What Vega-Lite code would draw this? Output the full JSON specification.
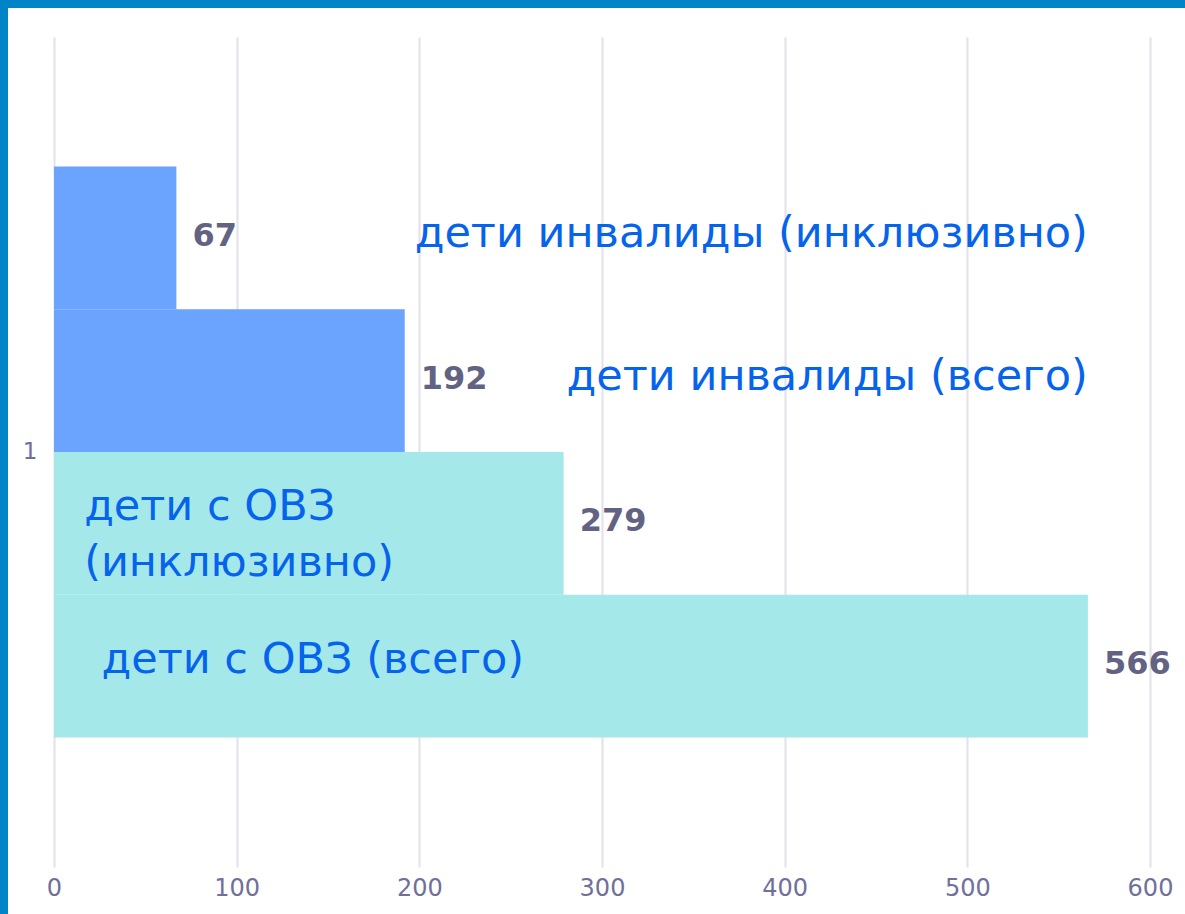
{
  "$schema": "https://vega.github.io/schema/vega-lite/v6.json",
  "width": 1181,
  "height": 910,
  "autosize": "none",
  "padding": {"left": 4, "top": 4, "right": 0, "bottom": 0},
  "background": "white",
  "config": {
    "view": {"stroke": "#0084c8", "strokeWidth": 8, "strokeDash": [1181, 2091, 910, 0], "strokeCap": "square"},
    "font": "DejaVu Sans"
  },
  "data": {
    "values": [
      {"cat": "1", "series": "дети инвалиды (инклюзивно)", "group": "инвалиды", "value": 67, "label": "дети инвалиды (инклюзивно)"},
      {"cat": "1", "series": "дети инвалиды (всего)", "group": "инвалиды", "value": 192, "label": "дети инвалиды (всего)"},
      {"cat": "1", "series": "дети с ОВЗ (инклюзивно)", "group": "ОВЗ", "value": 279, "label": "дети с ОВЗ\n(инклюзивно)"},
      {"cat": "1", "series": "дети с ОВЗ (всего)", "group": "ОВЗ", "value": 566, "label": "дети с ОВЗ (всего)"}
    ]
  },
  "encoding": {
    "y": {
      "field": "cat", "type": "nominal",
      "scale": {"range": [33, 863], "paddingInner": 0, "paddingOuter": 0.2268},
      "axis": {"title": null, "ticks": false, "domain": false, "grid": false, "labelFontSize": 23, "labelColor": "#70709a", "offset": -50, "labelPadding": 17}
    },
    "yOffset": {
      "field": "series", "type": "nominal",
      "sort": ["дети инвалиды (инклюзивно)", "дети инвалиды (всего)", "дети с ОВЗ (инклюзивно)", "дети с ОВЗ (всего)"],
      "scale": {"paddingInner": 0, "paddingOuter": 0}
    }
  },
  "layer": [
    {
      "mark": {"type": "bar"},
      "encoding": {
        "x": {
          "field": "value", "type": "quantitative",
          "scale": {"domain": [0, 600], "range": [50, 1146], "nice": false},
          "axis": {"orient": "top", "title": null, "values": [0, 100, 200, 300, 400, 500, 600], "grid": true, "gridColor": "#e2e2ea", "gridWidth": 2, "domain": false, "ticks": false, "labelFontSize": 24, "labelColor": "#70709a", "offset": -884, "labelPadding": 0, "labelBaseline": "middle", "labelFlush": false, "labelOverlap": false}
        },
        "color": {
          "field": "group", "type": "nominal",
          "scale": {"domain": ["инвалиды", "ОВЗ"], "range": ["#6aa4fe", "#a5e8ea"]},
          "legend": null
        }
      }
    },
    {
      "mark": {"type": "text", "align": "left", "baseline": "middle", "dx": 16, "dy": -2, "fontSize": 32, "fontWeight": "bold", "color": "#626282"},
      "encoding": {
        "x": {"field": "value", "type": "quantitative"},
        "text": {"field": "value", "type": "quantitative"}
      }
    },
    {
      "transform": [
        {"joinaggregate": [{"op": "max", "field": "value", "as": "maxValue"}]},
        {"filter": "datum.group === 'инвалиды'"}
      ],
      "mark": {"type": "text", "align": "right", "baseline": "middle", "dy": -4, "fontSize": 43, "color": "#0563ec"},
      "encoding": {
        "x": {"field": "maxValue", "type": "quantitative"},
        "text": {"field": "label"}
      }
    },
    {
      "transform": [{"filter": "datum.series === 'дети с ОВЗ (инклюзивно)'"}],
      "mark": {"type": "text", "align": "left", "baseline": "middle", "dy": -16, "fontSize": 43, "lineBreak": "\n", "lineHeight": 56, "color": "#0563ec"},
      "encoding": {
        "x": {"datum": 16.5, "type": "quantitative"},
        "text": {"field": "label"}
      }
    },
    {
      "transform": [{"filter": "datum.series === 'дети с ОВЗ (всего)'"}],
      "mark": {"type": "text", "align": "left", "baseline": "middle", "dy": -6, "fontSize": 43, "color": "#0563ec"},
      "encoding": {
        "x": {"datum": 26, "type": "quantitative"},
        "text": {"field": "label"}
      }
    }
  ]
}
